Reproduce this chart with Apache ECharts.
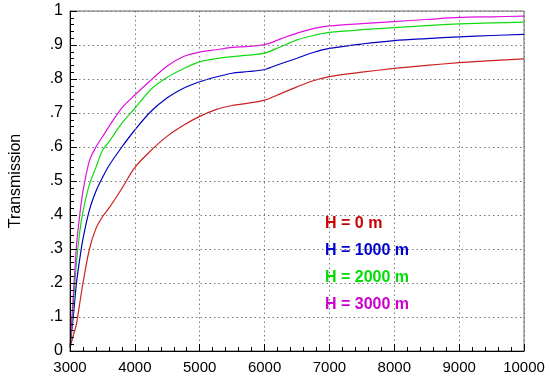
<!DOCTYPE html>
<html>
<head>
<meta charset="utf-8">
<script src="https://cdn.jsdelivr.net/npm/echarts@6/dist/echarts.min.js"></script>
<style>html,body{margin:0;padding:0;background:#fff}#c{width:550px;height:384px}</style>
</head>
<body>
<div id="c"></div>
<script>
var wavelength = [3000,3050,3100,3150,3200,3300,3400,3500,3600,3800,4000,4250,4500,4750,5000,5250,5500,5750,6000,6250,6500,6750,7000,7500,8000,8500,9000,9500,10000];
var h0    = [0.01,0.045,0.08,0.14,0.2,0.30,0.36,0.395,0.42,0.478,0.54,0.59,0.632,0.664,0.69,0.71,0.722,0.729,0.738,0.757,0.777,0.795,0.807,0.82,0.831,0.84,0.848,0.854,0.859];
var h1000 = [0.01,0.10,0.20,0.27,0.33,0.415,0.47,0.51,0.545,0.60,0.65,0.705,0.745,0.773,0.792,0.806,0.817,0.822,0.828,0.845,0.861,0.878,0.89,0.903,0.913,0.919,0.924,0.928,0.931];
var h2000 = [0.01,0.13,0.26,0.35,0.41,0.49,0.54,0.59,0.615,0.67,0.714,0.77,0.805,0.83,0.851,0.86,0.866,0.87,0.876,0.895,0.915,0.928,0.937,0.945,0.951,0.957,0.962,0.965,0.967];
var h3000 = [0.01,0.16,0.31,0.40,0.47,0.56,0.60,0.63,0.66,0.715,0.753,0.797,0.838,0.866,0.879,0.886,0.893,0.896,0.901,0.918,0.935,0.948,0.956,0.963,0.969,0.975,0.981,0.983,0.985];
var seriesNames = ['H = 0 m','H = 1000 m','H = 2000 m','H = 3000 m'];
var lineColors = ['#cc2020','#0000c0','#10dd10','#e010e0'];
var textColors = ['#cc0000','#0000cc','#00dd00','#cc00cc'];
var allValues = [h0,h1000,h2000,h3000];

var labelFont = "'Liberation Sans',Arial,sans-serif";
var chart = echarts.init(document.getElementById('c'), null, {renderer:'canvas'});

var series = allValues.map(function(vals, i){
  return {
    name: seriesNames[i], type:'line', smooth:0.3, symbol:'none',
    data: wavelength.map(function(x,j){return [x, vals[j]];}),
    lineStyle:{color:lineColors[i], width:1.2}, z: 3
  };
});

var graphics = seriesNames.map(function(n,i){
  return {type:'text', left:325, top:216 + i*27, z:10,
    style:{text:n, fill:textColors[i], font:"bold 16px " + labelFont}};
});

var minorTickStyle = {show:true, splitNumber:5, length:4, lineStyle:{color:'#000', width:1, opacity:1}};

chart.setOption({
  animation:false,
  grid:{left:62, top:11, right:26, bottom:33, show:true, borderColor:'#666', borderWidth:1, backgroundColor:'transparent'},
  xAxis:{type:'value', min:3000, max:10000, interval:1000, z:5,
    axisLine:{show:true, onZero:false, lineStyle:{color:'#000', width:1}},
    axisTick:{show:true, inside:true, length:7, lineStyle:{color:'#000', width:1}},
    minorTick:minorTickStyle,
    splitLine:{show:true, lineStyle:{color:'#777', type:[1.5,3], width:1}},
    axisLabel:{color:'#000', fontFamily:labelFont, fontSize:15, margin:9,
      formatter:function(v){ return String(v); }}
  },
  yAxis:{type:'value', min:0, max:1, interval:0.1, z:5,
    name:'Transmission', nameLocation:'middle', nameGap:46, nameRotate:90,
    nameTextStyle:{color:'#000', fontFamily:labelFont, fontSize:16},
    axisLine:{show:true, onZero:false, lineStyle:{color:'#000', width:1}},
    axisTick:{show:true, inside:true, length:7, lineStyle:{color:'#000', width:1}},
    minorTick:minorTickStyle,
    splitLine:{show:true, lineStyle:{color:'#777', type:[1.5,3], width:1}},
    axisLabel:{color:'#000', fontFamily:labelFont, fontSize:16, margin:7,
      formatter:function(v){ if(v<=0.0001) return '0'; if(v>=0.9999) return '1'; return '.' + Math.round(v*10); }}
  },
  series: series,
  graphic: graphics
});
</script>
</body>
</html>
